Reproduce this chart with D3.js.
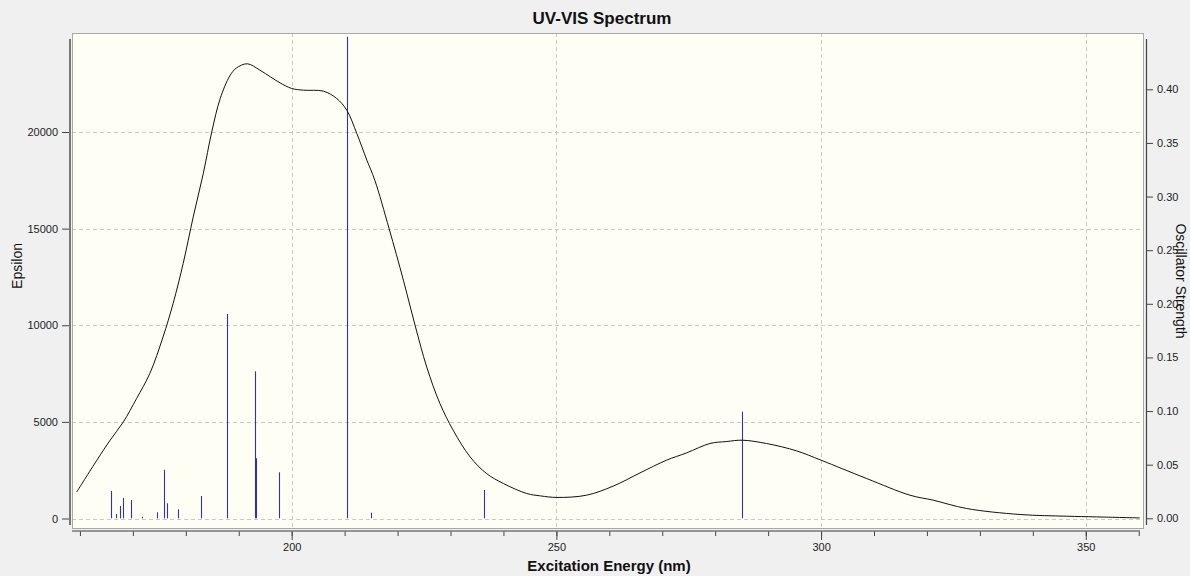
<!DOCTYPE html>
<html>
<head>
<meta charset="utf-8">
<script src="https://cdn.jsdelivr.net/npm/d3@7/dist/d3.min.js"></script>
<style>
  html, body { margin: 0; padding: 0; background: #f0f0f0; }
  svg { display: block; font-family: "Liberation Sans", Arial, sans-serif; }
  .tick text { font-size: 11px; fill: #222; }
</style>
</head>
<body>
<svg id="chart" width="1190" height="576"></svg>
<script>
// Excitation wavelengths (nm) and oscillator strengths of the computed transitions
const stickWavelengths = [165.9, 166.8, 167.6, 168.1, 169.6, 171.7, 174.5, 175.8, 176.4, 178.5,
                          182.9, 187.8, 193.1, 193.2, 197.6, 210.4, 215.0, 236.3, 285.1];
const stickStrengths   = [0.0255, 0.004, 0.0115, 0.019, 0.017, 0.0015, 0.0056, 0.0453, 0.014, 0.0084,
                          0.0208, 0.1905, 0.137, 0.056, 0.0429, 0.449, 0.0052, 0.0264, 0.0994];

// Broadened absorption envelope: wavelength (nm) and molar absorptivity
const curveWavelengths = [159.4, 163.2, 165.7, 168.2, 170.7, 173.2, 175.7, 177.6, 179.5, 181.4,
                          183.3, 184.9, 186.5, 188.3, 189.5, 191.6, 194.0, 196.0, 197.8, 200.0,
                          202.2, 206.0, 208.5, 210.4, 212.3, 214.2, 215.7, 218.4, 221.1, 223.3,
                          225.5, 228.0, 230.5, 233.7, 236.8, 240.0, 244.4, 247.0, 250.1, 255.7,
                          260.7, 265.8, 270.8, 274.6, 279.0, 282.2, 285.1, 289.7, 295.4, 300.0,
                          308.6, 316.8, 321.2, 327.5, 337.6, 346.4, 352.0, 360.2];
const curveEpsilon     = [1377, 3017, 4052, 5000, 6210, 7504, 9398, 11126, 13196, 15608,
                          17854, 20007, 21735, 22900, 23300, 23530, 23200, 22850, 22543, 22253,
                          22164, 22113, 21735, 21130, 19924, 18542, 17507, 15000, 12332, 10003,
                          7845, 5951, 4570, 3188, 2329, 1811, 1294, 1170, 1090, 1206,
                          1672, 2360, 3017, 3395, 3881, 3985, 4052, 3881, 3498, 3017,
                          2070, 1206, 947, 517, 207, 119, 83, 31];

// Axis ticks
const xMajorTicks = [200, 250, 300, 350];
const xMinorTicks = d3.range(160, 361, 10);
const epsilonTicks = [0, 5000, 10000, 15000, 20000];
const strengthTicks = [0, 0.05, 0.10, 0.15, 0.20, 0.25, 0.30, 0.35, 0.40];

const svg = d3.select("#chart");
const plot = { left: 72, right: 1144, top: 33, bottom: 529 };

const x = d3.scaleLinear().domain([158.5, 361]).range([plot.left, plot.right]);
const yEps = d3.scaleLinear().domain([-543, 25123]).range([plot.bottom, plot.top]);
const yStr = d3.scaleLinear().domain([-0.00998, 0.4525]).range([plot.bottom, plot.top]);

// plot background
svg.append("rect")
  .attr("x", plot.left).attr("y", plot.top)
  .attr("width", plot.right - plot.left).attr("height", plot.bottom - plot.top)
  .attr("fill", "#fefef5");

// dashed grid
const grid = svg.append("g").attr("stroke", "#c9c9c9").attr("stroke-dasharray", "4,3").attr("stroke-width", 1);
grid.selectAll("line.v").data(xMajorTicks).join("line")
  .attr("x1", d => Math.round(x(d)) + 0.5).attr("x2", d => Math.round(x(d)) + 0.5)
  .attr("y1", plot.top).attr("y2", plot.bottom);
grid.selectAll("line.h").data(epsilonTicks).join("line")
  .attr("y1", d => Math.round(yEps(d)) + 0.5).attr("y2", d => Math.round(yEps(d)) + 0.5)
  .attr("x1", plot.left).attr("x2", plot.right);

// frame
svg.append("rect")
  .attr("x", plot.left + 0.5).attr("y", plot.top + 0.5)
  .attr("width", plot.right - plot.left - 1).attr("height", plot.bottom - plot.top - 1)
  .attr("fill", "none").attr("stroke", "#a8a8a8");

// transition sticks
const sticks = stickWavelengths.map((w, i) => ({ w, f: stickStrengths[i] }));
svg.append("g").selectAll("line").data(sticks).join("line")
  .attr("x1", d => Math.round(x(d.w)) + 0.5).attr("x2", d => Math.round(x(d.w)) + 0.5)
  .attr("y1", yStr(0)).attr("y2", d => yStr(d.f))
  .attr("stroke", "#34349c").attr("stroke-width", 1.1);

// spectrum envelope
const curve = curveWavelengths.map((w, i) => ({ w, e: curveEpsilon[i] }));
svg.append("path").datum(curve)
  .attr("fill", "none").attr("stroke", "#111").attr("stroke-width", 1)
  .attr("d", d3.line().x(d => x(d.w)).y(d => yEps(d.e)).curve(d3.curveCatmullRom.alpha(0.5)));

// left axis (Epsilon)
const leftAxis = svg.append("g").attr("transform", "translate(70,0)")
  .call(d3.axisLeft(yEps).tickValues(epsilonTicks).tickSize(8).tickPadding(4).tickFormat(d3.format("d")));
leftAxis.select(".domain").remove();
leftAxis.selectAll(".tick line").attr("stroke", "#444");
svg.append("line").attr("x1", 70).attr("x2", 70).attr("y1", 39).attr("y2", 525)
  .attr("stroke", "#777").attr("stroke-width", 2);

// right axis (Oscillator Strength)
const rightAxis = svg.append("g").attr("transform", "translate(1147,0)")
  .call(d3.axisRight(yStr).tickValues(strengthTicks).tickSize(6).tickPadding(4).tickFormat(d3.format(".2f")));
rightAxis.select(".domain").remove();
rightAxis.selectAll(".tick line").attr("stroke", "#444");
svg.append("line").attr("x1", 1146.5).attr("x2", 1146.5).attr("y1", 39).attr("y2", 525)
  .attr("stroke", "#444").attr("stroke-width", 1.2);

// bottom axis (wavelength)
const bottomAxis = svg.append("g").attr("transform", "translate(0,531)")
  .call(d3.axisBottom(x).tickValues(xMajorTicks).tickSize(9).tickPadding(3).tickFormat(d3.format("d")));
bottomAxis.select(".domain").remove();
bottomAxis.selectAll(".tick line").attr("stroke", "#444");
svg.append("g").attr("transform", "translate(0,531)")
  .call(d3.axisBottom(x).tickValues(xMinorTicks).tickSize(5).tickFormat(""))
  .call(g => g.select(".domain").remove())
  .selectAll(".tick line").attr("stroke", "#444");
svg.append("line").attr("x1", plot.left).attr("x2", Math.round(x(360)) + 1).attr("y1", 531).attr("y2", 531)
  .attr("stroke", "#777").attr("stroke-width", 1.5);

// titles
svg.append("text").attr("x", 602).attr("y", 24).attr("text-anchor", "middle")
  .attr("font-size", 17).attr("font-weight", "bold").attr("fill", "#111").text("UV-VIS Spectrum");
svg.append("text").attr("x", 609).attr("y", 571).attr("text-anchor", "middle")
  .attr("font-size", 15).attr("font-weight", "bold").attr("fill", "#111").text("Excitation Energy (nm)");
svg.append("text").attr("transform", "translate(22,266) rotate(-90)").attr("text-anchor", "middle")
  .attr("font-size", 14).attr("fill", "#111").text("Epsilon");
svg.append("text").attr("transform", "translate(1176,281) rotate(90)").attr("text-anchor", "middle")
  .attr("font-size", 14).attr("fill", "#111").text("Oscillator Strength");
</script>
</body>
</html>
